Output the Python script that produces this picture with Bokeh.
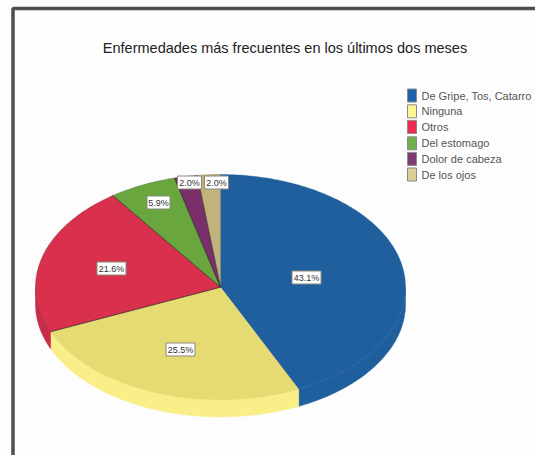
import numpy as np
from bokeh.embed import file_html
from bokeh.models import Range1d
from bokeh.plotting import figure
from bokeh.resources import INLINE
from bokeh.core.properties import value

title = "Enfermedades más frecuentes en los últimos dos meses"
categories = ["De Gripe, Tos, Catarro", "Ninguna", "Otros", "Del estomago", "Dolor de cabeza", "De los ojos"]
percent = [43.1, 25.5, 21.6, 5.9, 2.0, 2.0]
top_colors = ["#1F5F9E", "#E6DA73", "#D9304E", "#69A63E", "#7A2E6A", "#C2B27C"]
side_colors = ["#1F5F9E", "#FAEE88", "#C92C48", "#69A63E", "#7A2E6A", "#C2B27C"]
legend_colors = ["#1E62AE", "#FDF590", "#EE2B50", "#70AE4E", "#7E3A72", "#DDD094"]
rim_colors = ["#1F5F9E", "#E6DA73", "#5A2A30", "#3F5A2A", "#4A2A45", "#6A6045"]

# layout, in pixels of the picture
CX, CY, RX, RY, DEPTH = 220.0, 286.7, 185.0, 112.7, 17.0
label_x = [306, 180, 111, 158, 189, 216]
label_y = [277, 349, 268, 202, 182, 182]
label_w = [29, 29, 29, 23, 24, 24]
legend_y = [95, 110.8, 126.4, 142.8, 158.4, 174]

p = figure(width=535, height=455, output_backend="svg", toolbar_location=None,
           x_range=Range1d(0, 535), y_range=Range1d(455, 0),
           min_border=0, outline_line_color=None, background_fill_color="#FDFDFD",
           border_fill_color="#FDFDFD")
p.axis.visible = False
p.grid.visible = False

# frame
p.line([12.5, 12.5, 535], [455, 8, 8], line_width=3.5, line_color="#4A5050")

total = sum(percent)
edges = 90 - np.cumsum([0] + percent) / total * 360


def arc(a, b, dy=0.0):
    t = np.radians(np.linspace(a, b, max(int(abs(a - b)), 2) + 1))
    return CX + RX * np.cos(t), CY - RY * np.sin(t) + dy


# side wall: only the front half of the rim shows
for i in range(len(percent)):
    a, b = edges[i], edges[i + 1]
    for lo, hi in [(0, -180), (-360, -540)]:
        s, e = min(a, lo), max(b, hi)
        if s > e:
            x1, y1 = arc(s, e)
            x2, y2 = arc(e, s, DEPTH)
            p.patch(list(x1) + list(x2), list(y1) + list(y2), fill_color=side_colors[i],
                    line_color=side_colors[i], line_width=0.5)

# top face
for i in range(len(percent)):
    x, y = arc(edges[i], edges[i + 1])
    p.patch([CX] + list(x), [CY] + list(y), fill_color=top_colors[i],
            line_color=rim_colors[i], line_alpha=0.6, line_width=0.6)

# dark spokes, except those beside the blue slice's lower edge
for i in range(2, len(percent)):
    x, y = arc(edges[i], edges[i])
    p.line([CX, x[0]], [CY, y[0]], line_color="#2A2A2A", line_alpha=0.7, line_width=0.8)

# value labels
p.rect(label_x, label_y, width=label_w, height=[13] * 6, width_units="screen", height_units="screen",
       fill_color="#FFFFFF", line_color="#8A8A7A", line_width=1)
p.text(label_x, label_y, text=[f"{v:.1f}%" for v in percent], text_font=value("Liberation Sans"),
       text_font_size="9px", text_align="center", text_baseline="middle", text_color="#333333")

# legend
p.rect([411.5] * 6, legend_y, width=[9] * 6, height=[13] * 6, width_units="screen", height_units="screen",
       fill_color=legend_colors, line_color="#8A8A8A", line_width=1)
p.text([421] * 6, legend_y, text=categories, text_font=value("Liberation Sans"),
       text_font_size="11px", text_align="left", text_baseline="middle", text_color="#555555")

# title
p.text([284.5], [47], text=[title], text_font=value("Liberation Sans"), text_font_size="14.5px",
       text_align="center", text_baseline="middle", text_color="#222222")

open("out.html", "w").write(file_html(p, INLINE))
